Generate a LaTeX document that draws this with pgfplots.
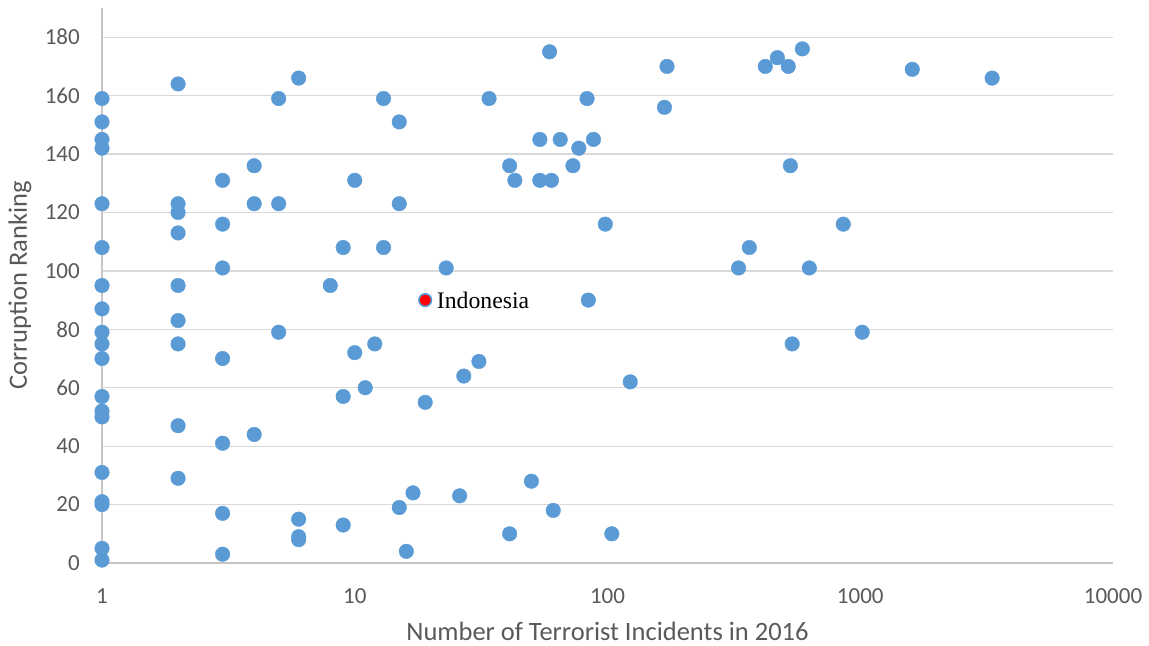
\documentclass[border=0pt]{standalone}
\usepackage{fontspec}
\setmainfont{Carlito}
\newfontfamily\seriffont{Liberation Serif}
\usepackage{pgfplots}
\usepackage{pgfplotstable}
\pgfplotsset{compat=1.18}
\definecolor{ptblue}{HTML}{5B9BD5}
\definecolor{gridc}{HTML}{D9D9D9}
\definecolor{axc}{HTML}{C6C6C6}
\definecolor{txt}{HTML}{595959}

\pgfplotstableread{
x y
1 159
1 151
1 145
1 142
1 123
1 108
1 95
1 87
1 79
1 75
1 70
1 57
1 52
1 50
1 31
1 21
1 20
1 5
1 1
2 164
2 123
2 120
2 113
2 95
2 83
2 75
2 47
2 29
3 131
3 116
3 101
3 70
3 41
3 17
3 3
4 136
4 123
4 44
5 159
5 123
5 79
6 166
6 15
6 9
6 8
8 95
9 108
9 57
9 13
10 131
10 72
11 60
12 75
13 159
13 108
15 151
15 123
15 19
16 4
17 24
19 55
23 101
26 23
27 64
31 69
34 159
41 136
41 10
43 131
50 28
54 145
54 131
59 175
60 131
61 18
65 145
73 136
77 142
83 159
84 90
88 145
98 116
104 10
123 62
168 156
172 170
330 101
364 108
421 170
470 173
519 170
529 136
538 75
590 176
629 101
857 116
1018 79
1606 169
3325 166
}\datatable

\begin{document}
\begin{tikzpicture}
\begin{axis}[
  at={(0,0)}, anchor=south west,
  scale only axis, width=1011bp, height=555bp,
  xmode=log, xmin=1, xmax=10000, ymin=0, ymax=190,
  xtick={1,10,100,1000,10000}, xticklabels={1,10,100,1000,10000},
  ytick={0,20,...,180},
  axis lines=left, axis line style={-, draw=axc, line width=1.3bp},
  ymajorgrids, grid style={draw=gridc, line width=1.3bp},
  major tick length=0pt, minor tick num=0,
  xminorticks=false,
  /pgf/number format/assume math mode=true,
  tick label style={font=\fontsize{23bp}{27bp}\selectfont, text=txt, inner sep=0pt},
  yticklabel style={anchor=east, xshift=-22bp},
  xticklabel style={anchor=north, yshift=-25bp},
  label style={font=\fontsize{26.5bp}{30bp}\selectfont, text=txt},
  xlabel={Number of Terrorist Incidents in 2016},
  ylabel={Corruption Ranking},
  xlabel style={at={(axis description cs:0.5,-0.1405)}, anchor=base, inner sep=0pt},
  ylabel style={at={(axis description cs:-0.0811,0.5)}, anchor=center},
  clip=false,
]
\addplot[only marks, mark=*, mark size=7.3bp, mark options={fill=ptblue, draw=ptblue, line width=0.4bp}] table[x=x, y=y] {\datatable};
\addplot[only marks, mark=*, mark size=6.3bp, mark options={fill=red, draw=ptblue, line width=1.6bp},
  nodes near coords={Indonesia},
  every node near coord/.append style={anchor=west, inner sep=0pt, xshift=11bp, font=\seriffont\fontsize{23.7bp}{27bp}\selectfont, text=black}]
  coordinates {(19,90)};
\end{axis}
\pgfresetboundingbox
\useasboundingbox (-102bp,-83bp) rectangle (1047bp,563bp);
\end{tikzpicture}
\end{document}
